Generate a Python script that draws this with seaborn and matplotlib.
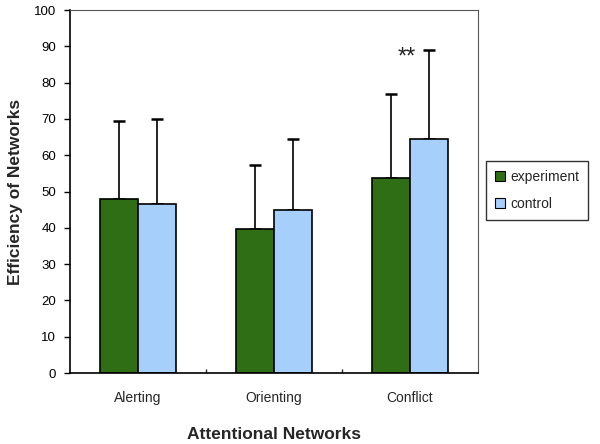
import matplotlib
matplotlib.use("Agg")
import matplotlib.pyplot as plt
import seaborn as sns
import pandas as pd
import numpy as np

categories = ["Alerting", "Orienting", "Conflict"]
groups = ["experiment", "control"]
experiment_mean = [47.8, 39.6, 53.8]
control_mean = [46.5, 44.8, 64.6]
experiment_err = [21.7, 17.8, 23.0]
control_err = [23.5, 19.8, 24.3]
yticks = list(range(0, 101, 10))

sns.set_theme(style="white")
plt.rcParams['font.family'] = ['Liberation Sans', 'DejaVu Sans']

df = pd.DataFrame({
    "network": categories * 2,
    "group": [groups[0]] * 3 + [groups[1]] * 3,
    "value": experiment_mean + control_mean,
})

fig = plt.figure(figsize=(6, 4.44), dpi=100)
ax = fig.add_axes([70/600, 1-373/444, 408/600, 363/444])

palette = {"experiment": "#2f6e15", "control": "#a6cffb"}
sns.barplot(data=df, x="network", y="value", hue="group", order=categories,
            hue_order=groups, palette=palette, errorbar=None, width=0.56,
            edgecolor="black", linewidth=1.2, saturation=1, ax=ax)

errs = experiment_err + control_err
means = experiment_mean + control_mean
bars = ax.patches[:6]
xs = [b.get_x() + b.get_width() / 2 for b in bars]
ax.errorbar(xs, means, yerr=[np.zeros(6), errs], fmt="none", ecolor="black",
            elinewidth=1.2, capsize=4.5, capthick=1.8, zorder=0)

ax.text(1.975, 87.0, "**", ha="center", va="center", fontsize=17, color="#222222")

ax.set_ylim(0, 100)
ax.set_xlim(-0.5, 2.5)
ax.set_yticks(yticks)
ax.tick_params(axis="y", direction="out", length=4, width=1, labelsize=9.5, colors="black",
               left=True, pad=6)
ax.tick_params(axis="x", length=0, labelsize=10, pad=13)
ax.set_xticks([0.5, 1.5], minor=True)
ax.tick_params(axis="x", which="minor", direction="in", length=3, width=1, bottom=True)
for s in ax.spines.values():
    s.set_color("black")
    s.set_linewidth(1.2)
for s in ["top", "right"]:
    ax.spines[s].set_color("#555555")
    ax.spines[s].set_linewidth(0.8)

ax.set_xlabel("Attentional Networks", fontsize=12.5, fontweight="bold", labelpad=16)
ax.set_ylabel("Efficiency of Networks", fontsize=12.5, fontweight="bold", labelpad=8)

leg = ax.legend(loc="upper left", bbox_to_anchor=(486/600, 1-161/444),
                bbox_transform=fig.transFigure, frameon=True, fancybox=False,
                borderaxespad=0,
                fontsize=10, handlelength=0.7, handleheight=0.7, handletextpad=0.4,
                labelspacing=0.95, borderpad=0.65, title=None)
leg.get_frame().set_edgecolor("black")
leg.get_frame().set_linewidth(1)
for h in leg.legend_handles:
    h.set_edgecolor("black")
    h.set_linewidth(0.8)

fig.savefig("out.png", dpi=100)
